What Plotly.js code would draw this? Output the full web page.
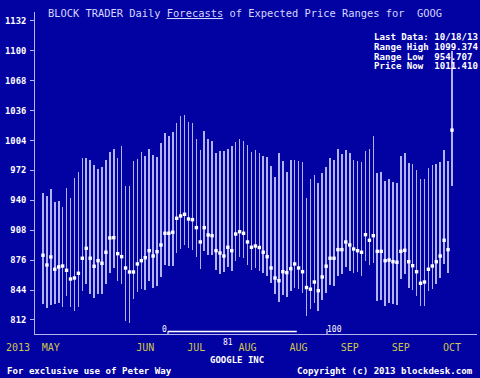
<!DOCTYPE html>
<html><head><meta charset="utf-8">
<script src="https://cdn.plot.ly/plotly-3.0.1.min.js"></script>
<style>html,body{margin:0;padding:0;background:#0202a2;}#chart{width:480px;height:378px;}</style>
</head><body><div id="chart"></div>
<script>
// Daily forecast range (high / low) and price, one entry per trading day
const rangeHigh = [947.5,944.6,952.1,938.2,939.5,933.1,953.1,942.1,963.8,970.6,
985.2,985.2,983.1,978.0,973.4,975.9,983.1,991.6,994.8,984.9,
998.3,955.3,955.3,982.3,984.1,991.6,987.3,994.8,988.4,985.9,
1001.2,1011.9,1008.7,1013.0,1022.6,1030.4,1031.2,1023.7,1022.6,1005.2,
993.4,1013.7,1005.8,1003.4,990.9,992.7,992.7,994.5,998.0,1002.3,
1005.2,1003.4,999.1,991.9,993.8,990.2,987.3,986.6,976.6,964.9,
990.9,982.0,970.6,983.1,983.1,982.3,980.9,942.8,962.4,967.0,
958.8,969.5,975.6,985.2,983.1,994.3,989.5,994.1,990.9,983.1,
982.0,981.2,992.7,994.5,1008.7,969.5,970.6,960.6,962.7,959.9,
958.8,987.3,990.9,979.5,978.5,972.4,962.7,962.7,974.8,977.7,
978.8,980.9,993.8,982.0,1099.4];
const rangeLow = [829.1,824.8,828.0,829.1,830.5,826.2,838.0,826.2,821.6,826.2,
843.3,850.5,839.8,835.2,839.5,839.5,850.5,861.9,867.3,854.0,
850.2,810.9,808.5,834.1,842.2,845.1,844.1,854.0,846.5,848.7,
858.3,870.8,870.0,870.0,883.9,887.6,892.2,888.6,886.8,879.0,
866.5,885.8,881.5,881.5,865.4,860.8,863.0,869.0,864.7,875.4,
879.7,878.6,870.5,865.4,867.9,864.9,862.2,859.4,851.9,839.5,
830.9,838.2,836.9,843.0,845.9,845.1,840.5,816.6,823.7,830.5,
821.9,833.4,840.9,849.7,848.7,859.4,861.2,869.0,864.7,862.6,
862.8,859.4,875.1,870.8,873.3,832.6,833.4,827.0,830.5,829.1,
828.0,855.8,860.8,846.5,844.1,837.6,827.0,827.3,843.0,845.5,
850.5,856.6,871.9,862.6,955.5];
const priceNow = [881.2,870.8,879.4,866.2,868.7,869.7,865.1,855.8,856.9,861.9,
878.0,888.6,878.0,869.4,875.4,872.6,884.4,899.7,900.0,882.9,
879.7,867.6,863.3,863.3,871.9,875.4,878.6,886.1,880.4,885.0,
892.2,904.7,904.7,905.8,920.7,923.2,925.0,920.0,919.2,910.7,
895.4,910.7,902.9,902.1,886.1,883.6,880.4,889.7,886.1,903.9,
906.4,904.7,895.4,889.7,891.1,889.5,884.4,879.7,867.6,856.9,
854.0,863.6,862.6,866.8,871.9,867.6,863.6,846.7,844.9,852.6,
843.3,858.0,869.5,878.0,878.0,887.2,887.2,895.4,892.2,887.9,
886.1,884.4,903.2,897.2,902.1,885.4,885.4,875.4,876.1,874.3,
873.7,885.4,886.5,874.3,870.0,863.6,851.2,852.6,866.2,869.7,
874.3,880.4,897.2,887.2,1015.0];
const monthTickDays = [2,26,39,52,65,78,91,104];
const monthTickLabels = ['MAY','JUN','JUL','AUG','AUG','SEP','SEP','OCT'];
const yTickValues = [812,844,876,908,940,972,1004,1036,1068,1100,1132];
const infoLines = ['Last Data: 10/18/13','Range High 1099.374','Range Low\u00a0\u00a0954.707','Price Now\u00a0\u00a01011.410'];
const rangePercentile = 81;

const dayIndex = rangeHigh.map((_, i) => i);
const span = rangeHigh.map((h, i) => h - rangeLow[i]);

const W = 480, H = 378, L = 35, R = 3, T = 12, B = 44;
const pw = W - L - R, ph = H - T - B;
const px = x => (x - L) / pw;
const py = y => (H - B - y) / ph;

const mono = 'DejaVu Sans Mono, monospace';
const bars = {
  type: 'bar', x: dayIndex, base: rangeLow, y: span, width: 0.4,
  marker: {color: '#b2b2ec', line: {width: 0}}, hoverinfo: 'skip'
};
const dots = {
  type: 'scatter', mode: 'markers', x: dayIndex, y: priceNow,
  marker: {symbol: 'square', size: 3.4, color: '#ffffff', line: {width: 0}}, hoverinfo: 'skip'
};

const ann = [];
function txt(t, x, y, size, color, anchor, bold) {
  ann.push({text: bold ? '<b>' + t + '</b>' : t, xref: 'paper', yref: 'paper', x: px(x), y: py(y),
    xanchor: anchor, yanchor: 'middle', showarrow: false,
    font: {family: mono, size: size, color: color}});
}
txt('BLOCK TRADER Daily <u>Forecasts</u> of Expected Price Ranges for\u00a0\u00a0GOOG', 46, 13, 10.4, '#d6d6ff', 'left', false);
const infoY = [37, 47, 57, 66];
infoLines.forEach((t, i) => txt(t, 372, infoY[i], 9.1, '#ffffff', 'left', true));
txt('2013', 18, 347, 10, '#cfc64a', 'center', false);
txt(String(rangePercentile), 228, 342, 8, '#ffffff', 'center', false);
txt('0', 164, 329, 8, '#ffffff', 'center', false);
txt('100', 334, 329, 8, '#ffffff', 'center', false);
txt('GOOGLE INC', 237, 360, 9, '#ffffff', 'center', true);
txt('For exclusive use of Peter Way', 5, 371, 9.1, '#ffffff', 'left', true);
txt('Copyright (c) 2013 blockdesk.com', 475, 371, 9.1, '#ffffff', 'right', true);

const idx0 = 168, idx100 = 327;
const idxEnd = idx0 + (idx100 - idx0) * rangePercentile / 100;
const shapes = [
  {type: 'line', xref: 'paper', yref: 'paper', x0: px(idx0), x1: px(idxEnd), y0: py(331.5), y1: py(331.5), line: {color: '#ffffff', width: 1.6}},
  {type: 'line', xref: 'paper', yref: 'paper', x0: px(idx0), x1: px(idx0), y0: py(331), y1: py(334), line: {color: '#ffffff', width: 1}},
  {type: 'line', xref: 'paper', yref: 'paper', x0: px(idx100), x1: px(idx100), y0: py(329), y1: py(334), line: {color: '#ffffff', width: 1}}
];

const layout = {
  width: W, height: H, margin: {l: L, r: R, t: T, b: B},
  paper_bgcolor: '#0202a2', plot_bgcolor: '#0202a2',
  showlegend: false, bargap: 0,
  xaxis: {range: [-2.03, 110.36], showgrid: false, zeroline: false, showline: true, linecolor: '#b4b4ee', linewidth: 1,
    tickmode: 'array', tickvals: monthTickDays, ticktext: monthTickLabels, ticks: '',
    tickfont: {family: mono, size: 10, color: '#cfc64a'}, ticklabelstandoff: 4},
  yaxis: {range: [797, 1141.3], showgrid: false, zeroline: false, showline: true, linecolor: '#b4b4ee', linewidth: 1,
    tickmode: 'array', tickvals: yTickValues, ticks: 'outside', ticklen: 4, tickcolor: '#b4b4ee',
    tickfont: {family: mono, size: 8.8, color: '#ffffff', weight: 'bold'}, ticklabelstandoff: 2},
  annotations: ann, shapes: shapes
};
Plotly.newPlot('chart', [bars, dots], layout, {staticPlot: true, displayModeBar: false});
</script></body></html>
